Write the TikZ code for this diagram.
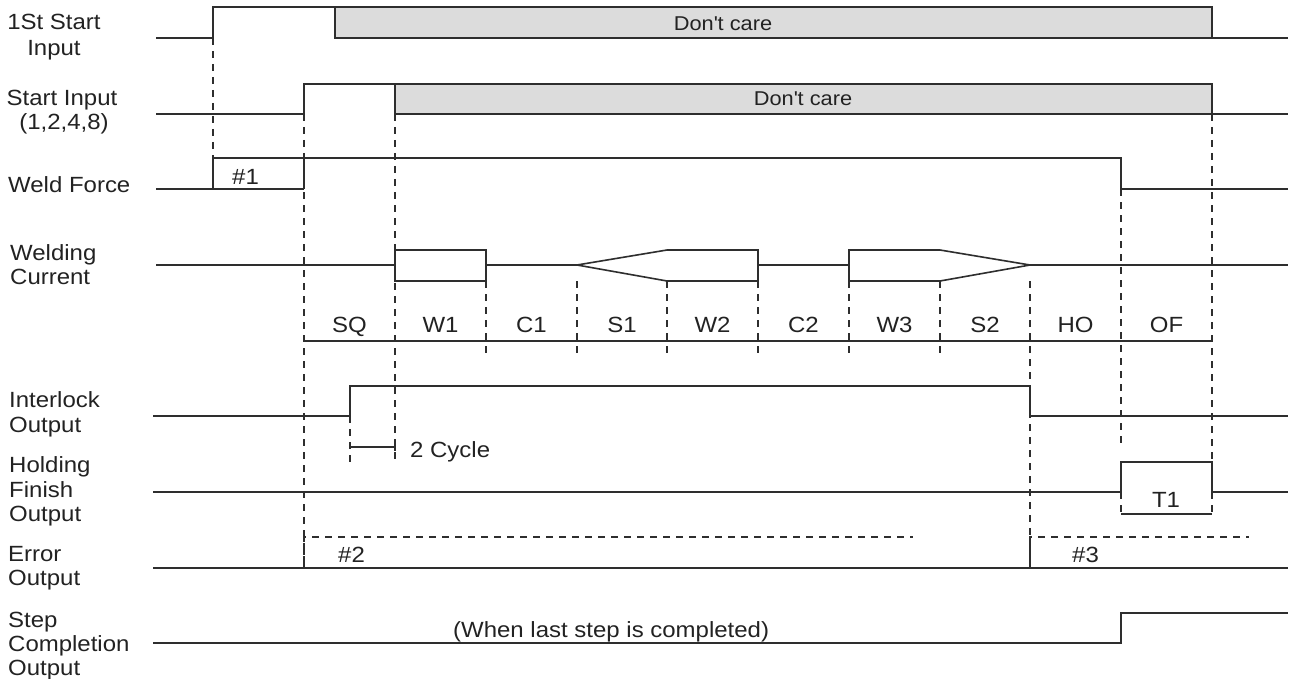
\documentclass[tikz,border=0pt]{standalone}
\usepackage{fontspec}
\setmainfont{Liberation Sans}[FakeStretch=1.09]
\definecolor{ln}{HTML}{2E2E2E}
\definecolor{tx}{HTML}{222222}
\definecolor{dc}{HTML}{DCDCDC}
\begin{document}
\begin{tikzpicture}[x=1pt,y=-1pt,
  sig/.style={draw=ln,line width=1.6pt,line join=miter},
  dsh/.style={draw=ln,line width=1.1pt,dash pattern=on 7pt off 6pt},
  thin/.style={draw=ln,line width=1.1pt},
  lbl/.style={inner sep=0pt,text=tx,font=\fontsize{22}{24}\selectfont},
  small/.style={inner sep=0pt,text=tx,font=\fontsize{20}{22}\selectfont}]
\useasboundingbox (0,0) rectangle (1289,679);
% dashed guides
\draw[dsh] (213,38) -- (213,158);
\draw[dsh] (304,114) -- (304,568);
\draw[dsh] (395,114) -- (395,465);
\draw[dsh] (350,416) -- (350,465);
\foreach \xx in {486,577,667,758,849,940}{\draw[dsh] (\xx,281) -- (\xx,357);}
\draw[dsh] (1030,281) -- (1030,568);
\draw[dsh] (1121,189) -- (1121,447);
\draw[dsh] (1212,114) -- (1212,462);
\draw[dsh] (1121,492) -- (1121,514);
\draw[dsh] (1212,492) -- (1212,514);
\draw[dsh] (304,568) -- (304,537) -- (913,537);
\draw[dsh] (1030,568) -- (1030,537) -- (1249,537);
% 1St start input
\draw[sig,fill=dc] (335,7) rectangle (1212,38);
\draw[sig] (156,38) -- (213,38) -- (213,7) -- (335,7);
\draw[sig] (1212,38) -- (1288,38);
\node[small,anchor=base] (dc1) at (723,31) {Don\textquotesingle t care};
% Start input
\draw[sig,fill=dc] (395,84) rectangle (1212,114);
\draw[sig] (156,114) -- (304,114) -- (304,84) -- (395,84);
\draw[sig] (1212,114) -- (1288,114);
\node[small,anchor=base] (dc2) at (803,106) {Don\textquotesingle t care};
% Weld force
\draw[sig] (156,189) -- (304,189);
\draw[sig] (213,189) -- (213,158) -- (1121,158) -- (1121,189) -- (1288,189);
\draw[sig] (304,158) -- (304,189);
\node[lbl,anchor=base west] (h1) at (232,184) {\#1};
% Welding current
\draw[sig] (156,265) -- (395,265);
\draw[sig] (395,250) rectangle (486,281);
\draw[sig] (486,265) -- (577,265);
\draw[sig] (577,265) -- (667,250) -- (758,250) -- (758,281) -- (667,281) -- cycle;
\draw[sig] (758,265) -- (849,265);
\draw[sig] (849,250) -- (940,250) -- (1030,265) -- (940,281) -- (849,281) -- cycle;
\draw[sig] (1030,265) -- (1288,265);
% period bar
\draw[thin] (304,341) -- (1212,341);
\foreach \nm/\xx in {SQ/349.5,W1/440.5,C1/531.5,S1/622,W2/712.5,C2/803.5,W3/894.5,S2/985,HO/1075.5,OF/1166.5}{
  \node[lbl,anchor=base] (p\nm) at (\xx,332) {\nm};}
% Interlock
\draw[sig] (153,416) -- (350,416) -- (350,386) -- (1030,386) -- (1030,416) -- (1288,416);
\draw[thin] (350,447) -- (395,447);
\draw[thin] (395,443) -- (395,451);
\node[lbl,anchor=base west] (cyc) at (410,457) {2 Cycle};
% Holding finish
\draw[sig] (153,492) -- (1121,492) -- (1121,462) -- (1212,462) -- (1212,492) -- (1288,492);
\draw[thin] (1121,514) -- (1212,514);
\node[lbl,anchor=base] (t1) at (1166,507) {T1};
% Error output
\draw[sig] (153,568) -- (1288,568);
\node[lbl,anchor=base west] (h2) at (338,562) {\#2};
\node[lbl,anchor=base west] (h3) at (1072,562) {\#3};
% Step completion
\draw[sig] (153,643) -- (1121,643) -- (1121,613) -- (1288,613);
\node[lbl,anchor=base west] (wl) at (453,637) {(When last step is completed)};
% left labels
\node[lbl,anchor=base] (l1a) at (54,30) {1St Start};
\node[lbl,anchor=base] (l1b) at (54,56) {Input};
\node[lbl,anchor=base] (l2a) at (62,106) {Start Input};
\node[lbl,anchor=base] (l2b) at (64,130) {(1,2,4,8)};
\node[lbl,anchor=base west] (l3) at (8,193) {Weld Force};
\node[lbl,anchor=base west] (l4a) at (10,260) {Welding};
\node[lbl,anchor=base west] (l4b) at (10,284) {Current};
\node[lbl,anchor=base west] (l5a) at (9,407) {Interlock};
\node[lbl,anchor=base west] (l5b) at (9,432) {Output};
\node[lbl,anchor=base west] (l6a) at (9,472) {Holding};
\node[lbl,anchor=base west] (l6b) at (9,497) {Finish};
\node[lbl,anchor=base west] (l6c) at (9,521) {Output};
\node[lbl,anchor=base west] (l7a) at (8,561) {Error};
\node[lbl,anchor=base west] (l7b) at (8,585) {Output};
\node[lbl,anchor=base west] (l8a) at (8,627) {Step};
\node[lbl,anchor=base west] (l8b) at (8,651) {Completion};
\node[lbl,anchor=base west] (l8c) at (8,675) {Output};
\end{tikzpicture}
\end{document}
